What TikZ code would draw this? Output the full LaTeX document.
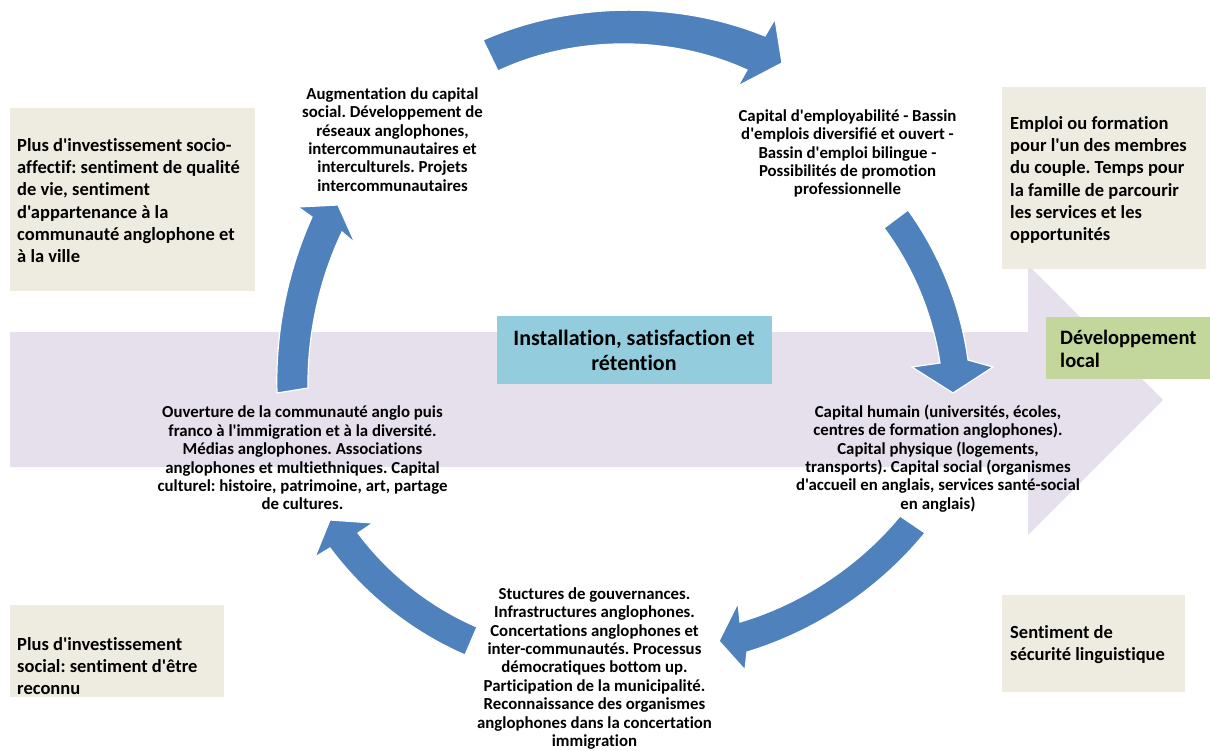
\documentclass[tikz,border=0pt]{standalone}
\usepackage{fontspec}
\setmainfont{Carlito}[Ligatures={TeXOff,CommonOff}]
\frenchspacing
\definecolor{bandpurple}{HTML}{E5E0EC}
\definecolor{cyclblue}{HTML}{4F81BD}
\definecolor{beige}{HTML}{EEECE1}
\definecolor{aqua}{HTML}{93CDDD}
\definecolor{olive}{HTML}{C3D69B}
\tikzset{
  cyclearrow/.style={fill=cyclblue, draw=white, line width=1.2pt, line join=miter},
  notebox/.style={fill=beige},
  steptext/.style={align=center, inner sep=0pt, font=\fontsize{16.8}{18.4}\selectfont\bfseries},
  notetext/.style={align=left, anchor=west, inner sep=0pt, font=\fontsize{18.5}{22.3}\selectfont\bfseries},
  arc/.style={looseness=0.86},
}
\begin{document}
\begin{tikzpicture}[x=1pt, y=-1pt]
\useasboundingbox (0,0) rectangle (1210,750);

% wide background arrow
\fill[bandpurple] (10,332) -- (1028,332) -- (1028,265) -- (1163,400) -- (1028,535) -- (1028,467) -- (10,467) -- cycle;

% side boxes
\fill[notebox] (10,108) rectangle (255,291);
\fill[notebox] (1002,87) rectangle (1206,269);
\fill[notebox] (10,605) rectangle (224,697);
\fill[notebox] (1002,595) rectangle (1185,692);

% central and outcome boxes
\fill[aqua] (497,316) rectangle (772,384);
\fill[olive] (1046,317) rectangle (1210,379);

% cycle arrows
\draw[cyclearrow] (483,40) to[arc, bend left=23] (765,36) -- (775,19) -- (782,63) -- (738,86) -- (747,70) to[arc, bend right=25] (498,71) -- cycle;
\draw[cyclearrow] (908,210) to[arc, bend left=14] (968,360) -- (993,367) -- (953,393) -- (912,367) -- (940,363) to[arc, bend right=14] (884,228) -- cycle;
\draw[cyclearrow] (925,533) to[arc, bend left=17] (747,652) -- (745,670) -- (719,641) -- (738,603) -- (740,622) to[arc, bend right=17] (900,516) -- cycle;
\draw[cyclearrow] (465,655) to[arc, bend left=15] (330,548) -- (315,557) -- (330,520) -- (373,523) -- (358,533) to[arc, bend right=15] (477,627) -- cycle;
\draw[cyclearrow] (277,393) to[arc, bend left=13] (312,217) -- (298,207) -- (338,205) -- (355,243) -- (342,232) to[arc, bend right=13] (308,388) -- cycle;

% central label
\node[align=center, inner sep=0pt, font=\fontsize{22}{25}\selectfont\bfseries] (centre) at (634,350.5) {Installation, satisfaction et\\rétention};
\node[notetext, font=\fontsize{20.5}{23}\selectfont\bfseries] (devloc) at (1060,348.5) {Développement\\local};

% cycle stages
\node[steptext] (augm) at (392.5,139.5) {Augmentation du capital\\social. Développement de\\réseaux anglophones,\\intercommunautaires et\\interculturels. Projets\\intercommunautaires};
\node[steptext] (emploi) at (847.5,153.5) {Capital d'employabilité - Bassin\\d'emplois diversifié et ouvert -\\Bassin d'emploi bilingue -\\Possibilités de promotion\\professionnelle};
\node[steptext] (humain) at (938,458.5) {Capital humain (universités, écoles,\\centres de formation anglophones).\\Capital physique (logements,\\transports). Capital social (organismes\\d'accueil en anglais, services santé-social\\en anglais)};
\node[steptext] (struct) at (594.5,668.5) {Stuctures de gouvernances.\\Infrastructures anglophones.\\Concertations anglophones et\\inter-communautés. Processus\\démocratiques bottom up.\\Participation de la municipalité.\\Reconnaissance des organismes\\anglophones dans la concertation\\immigration};
\node[steptext] (ouvert) at (302.5,458) {Ouverture de la communauté anglo puis\\franco à l'immigration et à la diversité.\\Médias anglophones. Associations\\anglophones et multiethniques. Capital\\culturel: histoire, patrimoine, art, partage\\de cultures.};

% side notes
\node[notetext] (socioaff) at (17,200.5) {Plus d'investissement socio-\\affectif: sentiment de qualité\\de vie, sentiment\\d'appartenance à la\\communauté anglophone et\\à la ville};
\node[notetext] (couple) at (1010,180) {Emploi ou formation\\pour l'un des membres\\du couple. Temps pour\\la famille de parcourir\\les services et les\\opportunités};
\node[notetext] (social) at (17,666) {Plus d'investissement\\social: sentiment d'être\\reconnu};
\node[notetext] (secur) at (1010,644.5) {Sentiment de\\sécurité linguistique};
\end{tikzpicture}
\end{document}
